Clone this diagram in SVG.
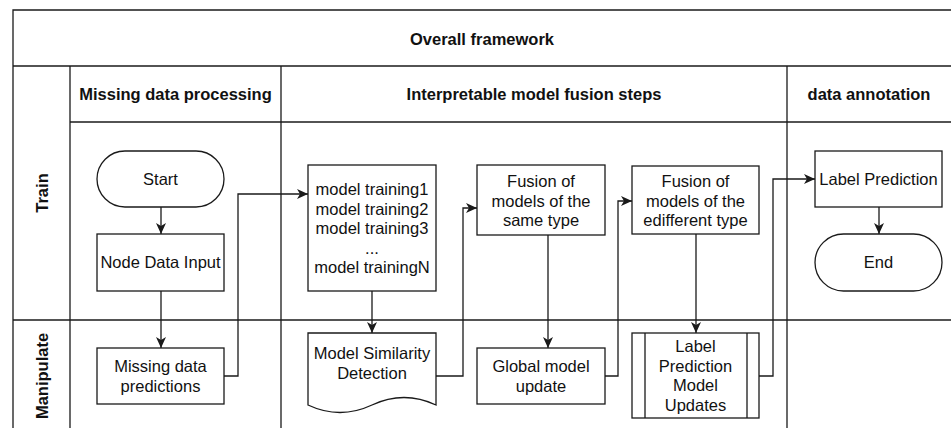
<svg xmlns="http://www.w3.org/2000/svg" width="951" height="428" viewBox="0 0 951 428">
  <style>
    .ln { stroke: #1a1a1a; stroke-width: 1.3; fill: none; }
    .box { stroke: #1a1a1a; stroke-width: 1.3; fill: #ffffff; }
    .hd { font-family: "Liberation Sans", Arial, sans-serif; font-size: 16.5px; font-weight: bold; fill: #111; text-anchor: middle; }
    .tx { font-family: "Liberation Sans", Arial, sans-serif; font-size: 16.5px; fill: #111; text-anchor: middle; }
    .edge { stroke: #1a1a1a; stroke-width: 1.3; fill: none; marker-end: url(#arrow); }
  </style>
  <defs>
    <marker id="arrow" markerUnits="userSpaceOnUse" markerWidth="12" markerHeight="10" viewBox="0 0 12 10" refX="11" refY="5" orient="auto">
      <path d="M0,0 L11,5 L0,10 L3,5 Z" fill="#1a1a1a"/>
    </marker>
  </defs>
  <rect x="0" y="0" width="951" height="428" fill="#ffffff"/>

  <!-- swimlane grid -->
  <g id="lanes">
    <path class="ln" d="M13,428 V10 H951"/>
    <path class="ln" d="M13,66 H951"/>
    <path class="ln" d="M70,122 H951"/>
    <path class="ln" d="M13,320 H951"/>
    <path class="ln" d="M70,66 V428"/>
    <path class="ln" d="M281,66 V428"/>
    <path class="ln" d="M787,66 V428"/>
    <text class="hd" x="482" y="45">Overall framework</text>
    <text class="hd" x="175.5" y="100">Missing data processing</text>
    <text class="hd" x="534" y="100">Interpretable model fusion steps</text>
    <text class="hd" x="869" y="100">data annotation</text>
    <text class="hd" transform="translate(42,193) rotate(-90)" y="6">Train</text>
    <text class="hd" transform="translate(42,376) rotate(-90)" y="6">Manipulate</text>
  </g>

  <!-- connectors -->
  <g id="connectors">
    <path class="edge" d="M161,207 V234"/>
    <path class="edge" d="M161,291 V348"/>
    <path class="edge" d="M224,376 H238 V194 H308"/>
    <path class="edge" d="M372,291 V333"/>
    <path class="edge" d="M436,376 H463 V208 H477"/>
    <path class="edge" d="M548,235 V348"/>
    <path class="edge" d="M605,376 H618 V201 H632"/>
    <path class="edge" d="M696,234 V333"/>
    <path class="edge" d="M759,376 H773 V179 H815"/>
    <path class="edge" d="M879,207 V234"/>
  </g>

  <g id="start">
    <rect class="box" x="97" y="151" width="127" height="56" rx="28" ry="28"/>
    <text class="tx" x="160.5" y="185">Start</text>
  </g>
  <g id="node-data-input">
    <rect class="box" x="97" y="234" width="127" height="57"/>
    <text class="tx" x="160.5" y="268">Node Data Input</text>
  </g>
  <g id="missing-data-predictions">
    <rect class="box" x="97" y="348" width="127" height="56"/>
    <text class="tx" x="160.5" y="372">Missing data</text>
    <text class="tx" x="160.5" y="392">predictions</text>
  </g>
  <g id="model-training">
    <rect class="box" x="308" y="165" width="128" height="126"/>
    <text class="tx" x="372" y="195">model training1</text>
    <text class="tx" x="372" y="214.5">model training2</text>
    <text class="tx" x="372" y="234">model training3</text>
    <text class="tx" x="372" y="253.5">...</text>
    <text class="tx" x="372" y="273">model trainingN</text>
  </g>
  <g id="model-similarity-detection">
    <path class="box" d="M308,333 H436 V405 Q404,390 372,405 Q340,420 308,405 Z"/>
    <text class="tx" x="372" y="359">Model Similarity</text>
    <text class="tx" x="372" y="379">Detection</text>
  </g>
  <g id="fusion-same-type">
    <rect class="box" x="477" y="165" width="128" height="70"/>
    <text class="tx" x="541" y="187">Fusion of</text>
    <text class="tx" x="541" y="206.5">models of the</text>
    <text class="tx" x="541" y="226">same type</text>
  </g>
  <g id="global-model-update">
    <rect class="box" x="477" y="348" width="128" height="56"/>
    <text class="tx" x="541" y="372">Global model</text>
    <text class="tx" x="541" y="392">update</text>
  </g>
  <g id="fusion-different-type">
    <rect class="box" x="632" y="166" width="127" height="68"/>
    <text class="tx" x="695.5" y="187">Fusion of</text>
    <text class="tx" x="695.5" y="206.5">models of the</text>
    <text class="tx" x="695.5" y="226">edifferent type</text>
  </g>
  <g id="label-prediction-model-updates">
    <rect class="box" x="632" y="333" width="127" height="85"/>
    <path class="ln" d="M645,333 V418 M747,333 V418"/>
    <text class="tx" x="695.5" y="352">Label</text>
    <text class="tx" x="695.5" y="371.5">Prediction</text>
    <text class="tx" x="695.5" y="391">Model</text>
    <text class="tx" x="695.5" y="410.5">Updates</text>
  </g>
  <g id="label-prediction">
    <rect class="box" x="815" y="151" width="127" height="56"/>
    <text class="tx" x="878.5" y="185">Label Prediction</text>
  </g>
  <g id="end">
    <rect class="box" x="815" y="234" width="127" height="57" rx="28.5" ry="28.5"/>
    <text class="tx" x="878.5" y="268">End</text>
  </g>
</svg>
